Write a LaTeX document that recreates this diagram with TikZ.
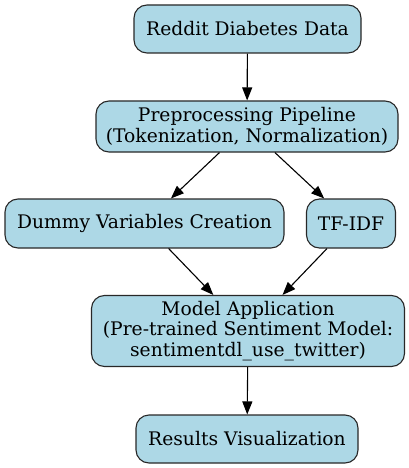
\documentclass[tikz,border=0pt]{standalone}
\usepackage{fontspec}
\setmainfont{DejaVu Serif}
\usetikzlibrary{arrows.meta}
\definecolor{boxfill}{RGB}{173,216,230}
\definecolor{boxline}{RGB}{40,40,40}
\begin{document}
\begin{tikzpicture}[x=1pt,y=-1pt,
  box/.style={draw=boxline,fill=boxfill,line width=1.1pt,rounded corners=13pt,
    align=center,inner sep=0pt,font=\fontsize{18.7}{20.5}\selectfont},
  conn/.style={draw=black,line width=1.1pt,-{Triangle[length=13pt,width=10pt]}}]
\useasboundingbox (0,0) rectangle (409,468);
\node[box,minimum width=227pt,minimum height=48pt] (n1) at (247.5,29) {Reddit Diabetes Data};
\node[box,minimum width=302pt,minimum height=51pt] (n2) at (247,126.5) {Preprocessing Pipeline\\(Tokenization, Normalization)};
\node[box,minimum width=279pt,minimum height=49pt] (n3) at (144.5,223.5) {Dummy Variables Creation};
\node[box,minimum width=89pt,minimum height=49pt] (n4) at (351,223.5) {TF-IDF};
\node[box,minimum width=313pt,minimum height=71pt] (n5) at (248,331) {Model Application\\(Pre-trained Sentiment Model:\\sentimentdl\_use\_twitter)};
\node[box,minimum width=222pt,minimum height=48pt] (n6) at (247,439) {Results Visualization};
\draw[conn] (n1) -- (n2);
\draw[conn] (n2) -- (n3);
\draw[conn] (n2) -- (n4);
\draw[conn] (n3) -- (n5);
\draw[conn] (n4) -- (n5);
\draw[conn] (n5) -- (n6);
\end{tikzpicture}
\end{document}
